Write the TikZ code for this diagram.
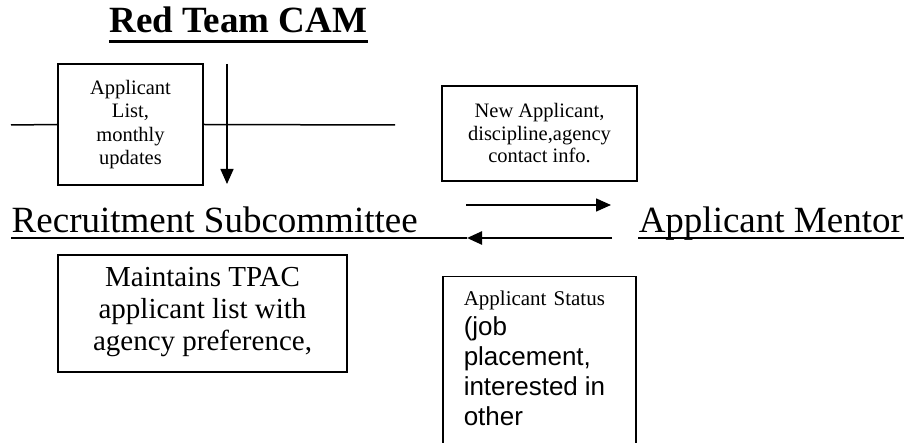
\documentclass[tikz,border=0pt]{standalone}
\usepackage{fontspec}
\setmainfont{Liberation Serif}
\setsansfont{Liberation Sans}
\usetikzlibrary{arrows.meta}

\begin{document}
\begin{tikzpicture}[x=1pt, y=-1pt, line width=1.5pt,
    box/.style={draw, align=center, inner sep=0pt},
    biglabel/.style={inner sep=0pt, font=\fontsize{37}{40}\selectfont},
    >={Triangle[length=15pt,width=13pt]}]
      \useasboundingbox (0,0) rectangle (909,443);

      \node[biglabel, font=\fontsize{37}{40}\selectfont\bfseries, anchor=base] (T) at (238.5,33) {Red Team CAM};
      \node[biglabel, anchor=base west] (RS) at (11,233) {Recruitment Subcommittee};
      \node[biglabel, anchor=base west] (AM) at (638,233) {Applicant Mentor};

      \node[box, font=\fontsize{20.5}{23.3}\selectfont, minimum width=145pt, minimum height=121pt] (L) at (130.5,124.5) {Applicant\\List,\\monthly\\updates};
      \node[box, font=\fontsize{20.5}{22.5}\selectfont, minimum width=195pt, minimum height=95pt] (N) at (539.5,133.5) {New Applicant,\\discipline,agency\\contact info.};
      \node[box, font=\fontsize{29}{32}\selectfont, minimum width=289pt, minimum height=117pt, text depth=10pt] (M) at (202.5,313.5) {Maintains TPAC\\applicant list with\\agency preference,};
      \node[draw, inner sep=0pt, minimum width=193pt, minimum height=200pt, anchor=north west] (S) at (442,276) {};
      \node[inner sep=0pt, anchor=north west, text width=165pt, font=\fontsize{21}{23}\selectfont] (ST) at (463,290.5)
        {\raggedright Applicant Status\par
         \fontsize{26}{30}\sffamily (job\par placement,\par interested in\par other\par};

      \coordinate (lineW) at (11,125);
      \coordinate (lineE) at (395,125);
      \coordinate (dropS) at (227,64);
      \coordinate (dropE) at (227,184);
      \coordinate (fwdS)  at (466,205);
      \coordinate (fwdE)  at (611,205);
      \coordinate (backS) at (612,238);
      \coordinate (backE) at (467,238);

      \draw (lineW) -- (L.west);
      \draw (L.east) -- (lineE);
      \draw[line width=3pt] ([yshift=-9pt]T.base west) -- ([yshift=-9pt]T.base east);
      \draw[line width=2pt] ([yshift=-5pt]RS.base west) -- (backE);
      \draw[line width=2pt] ([yshift=-5pt]AM.base west) -- ([yshift=-5pt]AM.base east);

      \path[->] (dropS) edge (dropE)
                (fwdS)  edge (fwdE)
                (backS) edge [line width=2.5pt] (backE)
      ;
    \end{tikzpicture}
\end{document}
